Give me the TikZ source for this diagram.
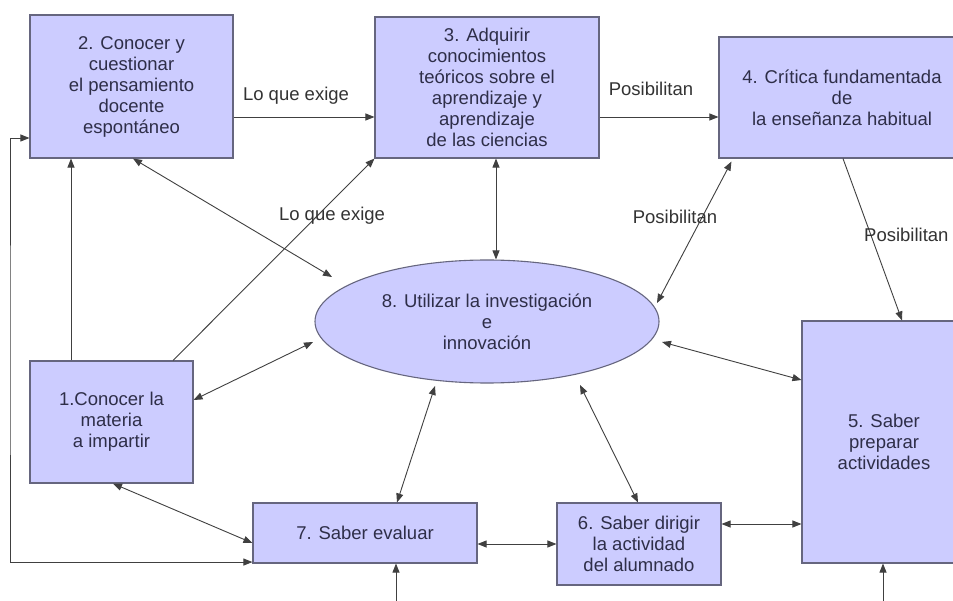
\documentclass[tikz,border=0pt]{standalone}
\usepackage{fontspec}
\setmainfont{Liberation Sans}
\usetikzlibrary{arrows.meta,shapes.geometric}
\definecolor{boxfill}{HTML}{CCCCFF}
\definecolor{boxline}{HTML}{66667F}
\definecolor{boxtext}{HTML}{2E2E48}
\definecolor{linec}{HTML}{404040}
\definecolor{labtext}{HTML}{333333}
\begin{document}
\begin{tikzpicture}[x=1pt,y=-1pt,
  font=\fontsize{18.5}{21}\selectfont,
  box/.style={draw=boxline, line width=1.1pt, fill=boxfill, text=boxtext, align=center, inner sep=0pt},
  oval/.style={box, ellipse},
  lab/.style={text=labtext, inner sep=0pt},
  conn/.style={draw=linec, line width=0.9pt, -{Triangle[length=9pt,width=7pt]}},
  both/.style={draw=linec, line width=0.9pt, {Triangle[length=9pt,width=7pt]}-{Triangle[length=9pt,width=7pt]}}]
\useasboundingbox (0,0) rectangle (953,601);
\fill[white] (0,0) rectangle (953,601);

% nodes
\node[box, minimum width=203pt, minimum height=143pt] (b2) at (131.5,86.5) {2. Conocer y\\cuestionar\\el pensamiento\\docente\\espontáneo};
\node[box, minimum width=224pt, minimum height=141pt] (b3) at (487,87.5) {3. Adquirir\\conocimientos\\teóricos sobre el\\aprendizaje y\\aprendizaje\\de las ciencias};
\node[box, minimum width=246pt, minimum height=121pt] (b4) at (842,97.5) {4. Crítica fundamentada\\de\\la enseñanza habitual};
\node[box, minimum width=163pt, minimum height=122pt] (b1) at (111.5,422) {1.Conocer la\\materia\\a impartir};
\node[box, minimum width=224pt, minimum height=60pt] (b7) at (365,533) {7. Saber evaluar};
\node[box, minimum width=164pt, minimum height=82pt] (b6) at (639,544) {6. Saber dirigir\\la actividad\\del alumnado};
\node[box, minimum width=164pt, minimum height=242pt] (b5) at (884,442) {5. Saber\\preparar\\actividades};
\node[oval, minimum width=344pt, minimum height=123pt] (e8) at (487,321.5) {8. Utilizar la investigación\\e\\innovación};

% free ends
\coordinate (lx) at (10,350);
\coordinate (in7) at (396,615);
\coordinate (in5) at (883,615);

% connectors
\draw[conn] ([yshift=-30.5pt]b2.east) -- ([yshift=-29.5pt]b3.west);
\draw[conn] ([yshift=-29.5pt]b3.east) -- ([yshift=-19.5pt]b4.west);
\draw[conn] ([xshift=-40.5pt]b1.north) -- ([xshift=-60.5pt]b2.south);
\draw[both] ([yshift=-51.5pt]b2.west) -| (lx) |- ([yshift=1.5pt]b7.south west);
\draw[conn] ([xshift=61.5pt]b1.north) -- (b3.south west);
\draw[both] ([xshift=1.5pt]b2.south) -- ([xshift=-155pt,yshift=44.5pt]e8.center);
\draw[both] ([xshift=9pt]b3.south) -- ([xshift=9pt]e8.north);
\draw[both] ([xshift=13pt,yshift=-3pt]b4.south west) -- ([xshift=170pt,yshift=18.5pt]e8.center);
\draw[conn] ([xshift=1pt]b4.south) -- ([xshift=18pt]b5.north);
\draw[both] ([xshift=175pt,yshift=-20.5pt]e8.center) -- ([yshift=62pt]b5.west);
\draw[both] ([xshift=-174pt,yshift=-20.5pt]e8.center) -- ([yshift=22pt]b1.east);
\draw[both] ([xshift=-52pt,yshift=-64.5pt]e8.center) -- ([xshift=32pt]b7.north);
\draw[both] ([xshift=93pt,yshift=-63.5pt]e8.center) -- ([xshift=-1pt]b6.north);
\draw[both] ([xshift=1.5pt]b1.south) -- ([yshift=-10pt]b7.west);
\draw[both] ([yshift=-11pt]b7.east) -- (b6.west);
\draw[both] ([yshift=20pt]b6.east) -- ([yshift=-82pt]b5.west);
\draw[conn] (in7) -- ([xshift=31pt]b7.south);
\draw[conn] (in5) -- ([xshift=-1pt]b5.south);

% labels
\node[lab] (l1) at (296,96) {Lo que exige};
\node[lab] (l2) at (651,89) {Posibilitan};
\node[lab] (l3) at (332,216) {Lo que exige};
\node[lab] (l4) at (675,217) {Posibilitan};
\node[lab, anchor=west] (l5) at (864,235) {Posibilitan};
\end{tikzpicture}
\end{document}
